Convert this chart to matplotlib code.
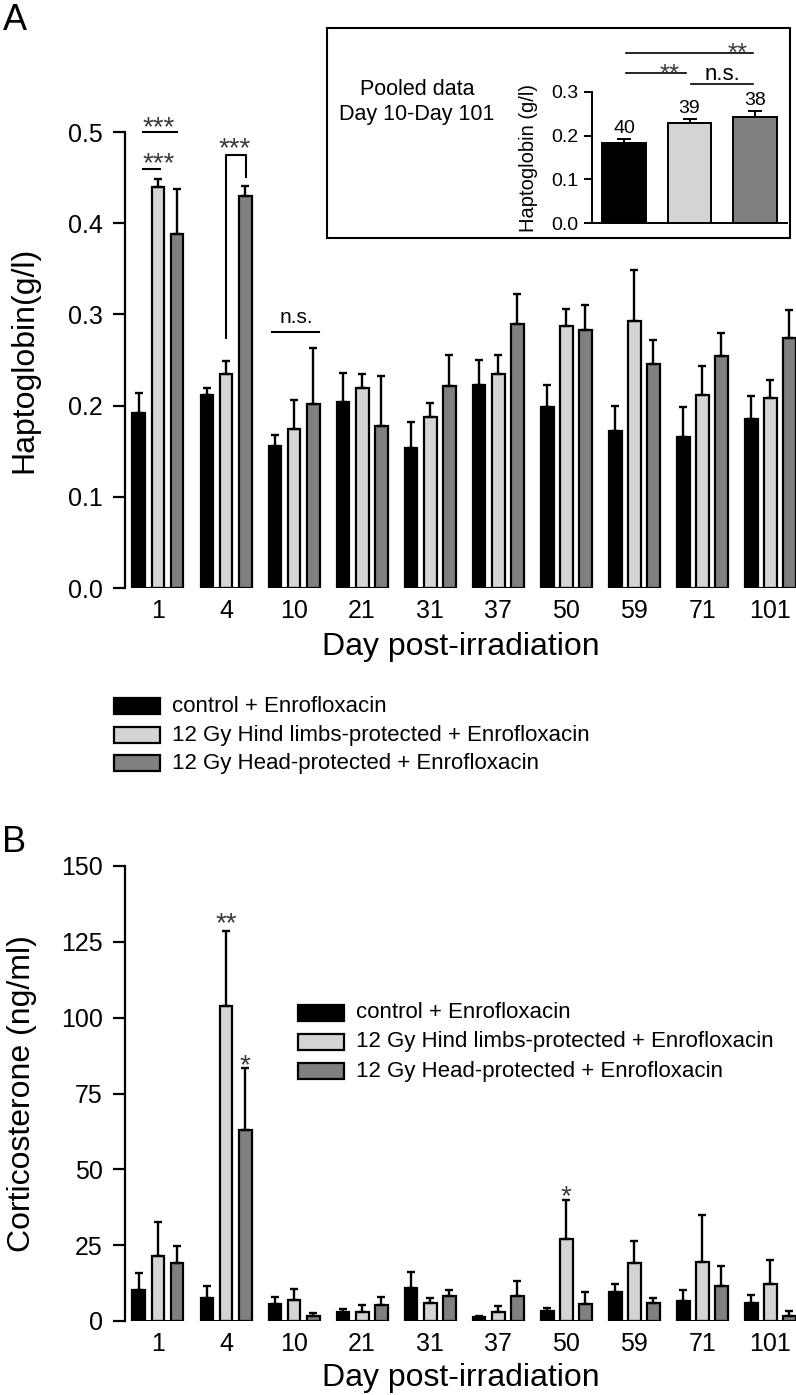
import numpy as np
import matplotlib
matplotlib.use("Agg")
import matplotlib.pyplot as plt
from matplotlib.patches import Rectangle

plt.rcParams['font.family'] = ['Liberation Sans', 'DejaVu Sans']

W, H = 796, 1395

days = ['1', '4', '10', '21', '31', '37', '50', '59', '71', '101']
groups = ['control + Enrofloxacin',
          '12 Gy Hind limbs-protected + Enrofloxacin',
          '12 Gy Head-protected + Enrofloxacin']
colors = ['#000000', '#d4d4d4', '#808080']

# haptoglobin (g/l), mean and SEM
hp_ctrl = [0.192, 0.212, 0.156, 0.204, 0.153, 0.223, 0.199, 0.172, 0.166, 0.185]
hp_ctrl_sem = [0.022, 0.007, 0.012, 0.032, 0.029, 0.027, 0.024, 0.028, 0.032, 0.026]
hp_hind = [0.440, 0.235, 0.174, 0.219, 0.187, 0.235, 0.287, 0.293, 0.212, 0.208]
hp_hind_sem = [0.008, 0.014, 0.032, 0.016, 0.016, 0.021, 0.019, 0.056, 0.031, 0.020]
hp_head = [0.388, 0.430, 0.202, 0.178, 0.221, 0.289, 0.283, 0.246, 0.254, 0.274]
hp_head_sem = [0.049, 0.011, 0.061, 0.054, 0.035, 0.033, 0.027, 0.026, 0.026, 0.031]

# corticosterone (ng/ml)
ct_ctrl = [10.1, 7.7, 5.7, 3.1, 10.9, 1.2, 3.4, 9.7, 6.7, 5.8]
ct_ctrl_sem = [5.6, 3.8, 2.3, 0.8, 5.1, 0.3, 0.9, 2.6, 3.6, 2.7]
ct_hind = [21.3, 103.8, 7.0, 3.1, 5.9, 3.1, 27.0, 19.2, 19.4, 12.2]
ct_hind_sem = [11.2, 24.9, 3.5, 2.2, 1.7, 1.8, 12.8, 7.2, 15.6, 7.8]
ct_head = [19.2, 63.0, 1.7, 5.4, 8.4, 8.2, 5.7, 5.8, 11.5, 1.8]
ct_head_sem = [5.6, 20.5, 0.8, 2.6, 1.8, 5.1, 3.8, 1.9, 6.6, 1.6]

# pooled day 10 - day 101
pool_mean = [0.183, 0.229, 0.243]
pool_sem = [0.009, 0.009, 0.013]
pool_n = ['40', '39', '38']

OFF = 0.28
BW = 0.19


def fx(px):
    return px / W


def fy(py):
    return 1 - py / H


def style_axis(ax, ymax, ticks, fs=18):
    for s in ['top', 'right', 'bottom']:
        ax.spines[s].set_visible(False)
    ax.spines['left'].set_linewidth(1.6)
    ax.spines['left'].set_bounds(0, ymax)
    ax.set_ylim(0, ymax)
    ax.set_yticks(ticks)
    ax.tick_params(axis='y', direction='out', length=9, width=1.6, pad=7, labelsize=fs)


def grouped_bars(ax, means, sems):
    x = np.arange(len(days))
    for k in range(3):
        pos = x + (k - 1) * OFF
        m = np.array(means[k])
        s = np.array(sems[k])
        ax.bar(pos, m, BW, color=colors[k], edgecolor='black', linewidth=1.6, zorder=2)
        ax.errorbar(pos, m, yerr=[np.zeros(len(m)), s], fmt='none', ecolor='black',
                    elinewidth=1.7, capsize=2.8, capthick=1.7, zorder=3)
    ax.hlines(np.zeros(len(x)), x - OFF - BW / 2, x + OFF + BW / 2,
              color='black', lw=2.2, zorder=4)
    ax.set_xlim(-0.485, 9.38)
    ax.set_xticks(x)
    ax.set_xticklabels(days)
    ax.tick_params(axis='x', length=0, pad=8, labelsize=18)


def stars(ax, x, y, txt, fs=20):
    ax.annotate(txt, xy=(x, y), xytext=(0, -0.59 * fs), textcoords='offset points',
                ha='center', va='baseline', fontsize=fs, color='#3a3a3a',
                annotation_clip=False)


def legend_rows(fig, x0, rows, tx):
    for k in range(3):
        yc = rows[k]
        fig.add_artist(Rectangle((fx(x0), fy(yc + 8)), 46 / W, 16 / H,
                                 transform=fig.transFigure, facecolor=colors[k],
                                 edgecolor='black', lw=1.6))
        fig.text(fx(tx), fy(yc), groups[k], ha='left', va='center', fontsize=16)


fig = plt.figure(figsize=(W / 100, H / 100), dpi=100)

# ---- panel A
axA = fig.add_axes([fx(125), fy(588), (W - 125) / W, (588 - 132) / H])
grouped_bars(axA, [hp_ctrl, hp_hind, hp_head], [hp_ctrl_sem, hp_hind_sem, hp_head_sem])
style_axis(axA, 0.5, [0, 0.1, 0.2, 0.3, 0.4, 0.5])
axA.set_yticklabels(['0.0', '0.1', '0.2', '0.3', '0.4', '0.5'])
axA.set_ylabel('Haptoglobin(g/l)', fontsize=23)
axA.yaxis.set_label_coords((39 - 125) / 671, 0.5)
axA.set_xlabel('Day post-irradiation', fontsize=23)
axA.xaxis.set_label_coords(0.5, (588 - 647) / 456)
axA.xaxis.label.set_va('center')

kw = dict(color='black', lw=1.5, clip_on=False)
axA.plot([-0.22, 0.03], [0.459, 0.459], **kw)
axA.plot([-0.22, 0.28], [0.5, 0.5], **kw)
stars(axA, 0.015, 0.475, '***')
stars(axA, 0.015, 0.515, '***')
axA.plot([1.0, 1.0, 1.3, 1.3], [0.274, 0.475, 0.475, 0.451], **kw)
stars(axA, 1.13, 0.491, '***')
axA.plot([1.68, 2.37], [0.281, 0.281], **kw)
axA.text(2.04, 0.297, 'n.s.', ha='center', va='center', fontsize=15)

fig.text(fx(15), fy(20), 'A', ha='center', va='center', fontsize=26)

# ---- inset with pooled data
fig.add_artist(Rectangle((fx(327), fy(238)), (790 - 327) / W, (238 - 28) / H,
                         transform=fig.transFigure, fill=False, edgecolor='black', lw=1.5))
fig.text(fx(417), fy(102), 'Pooled data\nDay 10-Day 101', ha='center', va='center',
         fontsize=15.5, linespacing=1.2)
axI = fig.add_axes([fx(592), fy(223), (787 - 592) / W, (223 - 92) / H])
xi = np.arange(3)
axI.bar(xi, pool_mean, 0.66, color=colors, edgecolor='black', linewidth=1.4, zorder=2)
axI.errorbar(xi, pool_mean, yerr=[np.zeros(3), pool_sem], fmt='none', ecolor='black',
             elinewidth=1.4, capsize=5, capthick=1.4, zorder=3)
for s in ['top', 'right']:
    axI.spines[s].set_visible(False)
axI.spines['left'].set_linewidth(1.4)
axI.spines['bottom'].set_linewidth(1.4)
axI.set_xlim(-0.49, 2.49)
axI.set_ylim(0, 0.3)
axI.set_yticks([0, 0.1, 0.2, 0.3])
axI.set_yticklabels(['0.0', '0.1', '0.2', '0.3'])
axI.set_xticks([])
axI.tick_params(axis='y', direction='out', length=6, width=1.4, pad=4, labelsize=14)
axI.set_ylabel('Haptoglobin (g/l)', fontsize=14.5)
axI.yaxis.set_label_coords((538 - 592) / 195, 0.5)
for i in range(3):
    axI.text(xi[i], pool_mean[i] + pool_sem[i] + 0.005, pool_n[i], ha='center',
             va='bottom', fontsize=14)
kwi = dict(color='black', lw=1.2, clip_on=False)
axI.plot([0.03, 1.97], [0.389, 0.389], **kwi)
axI.plot([0.03, 0.95], [0.343, 0.343], **kwi)
axI.plot([1.02, 1.97], [0.318, 0.318], **kwi)
stars(axI, 1.74, 0.407, '**', fs=18.5)
stars(axI, 0.70, 0.357, '**', fs=18.5)
axI.text(1.51, 0.339, 'n.s.', ha='center', va='center', fontsize=16)

legend_rows(fig, 114, [706, 735, 763], 172)

# ---- panel B
axB = fig.add_axes([fx(125), fy(1321), (W - 125) / W, (1321 - 866) / H])
grouped_bars(axB, [ct_ctrl, ct_hind, ct_head], [ct_ctrl_sem, ct_hind_sem, ct_head_sem])
style_axis(axB, 150, [0, 25, 50, 75, 100, 125, 150])
axB.set_ylabel('Corticosterone (ng/ml)', fontsize=23)
axB.yaxis.set_label_coords((37 - 125) / 671, 0.5)
axB.set_xlabel('Day post-irradiation', fontsize=23)
axB.xaxis.set_label_coords(0.5, (1321 - 1378) / 455)
axB.xaxis.label.set_va('center')
stars(axB, 1.0, 134, '**')
stars(axB, 1.28, 87, '*')
stars(axB, 6.0, 44, '*')

fig.text(fx(14), fy(843), 'B', ha='center', va='center', fontsize=26)
legend_rows(fig, 298, [1013, 1042, 1071], 356)

fig.savefig('out.png', dpi=100)
